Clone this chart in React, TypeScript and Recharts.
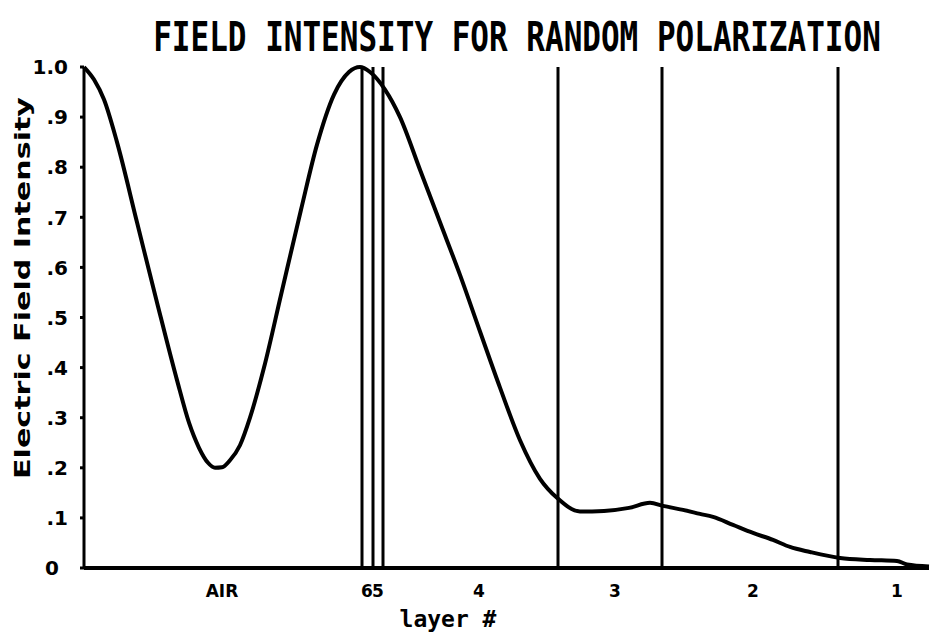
import { LineChart, Line, XAxis, YAxis, ReferenceLine, Customized } from "recharts";

// depth position along the stack (arbitrary units, air on the left)
const positions = [
  0, 10, 20, 33, 53, 73, 93, 105, 115, 124, 131, 138, 146, 156, 166, 180, 197,
  217, 233, 250, 265, 276, 286, 301, 316, 336, 356, 376, 396, 416, 436, 456,
  473, 496, 520, 545, 566, 579, 599, 616, 629, 649, 669, 689, 706, 726, 756,
  786, 813, 823, 845,
];
const intensity = [
  1.0, 0.975, 0.935, 0.85, 0.69, 0.53, 0.375, 0.29, 0.24, 0.21, 0.2, 0.201,
  0.215, 0.245, 0.3, 0.4, 0.545, 0.715, 0.845, 0.945, 0.99, 1.0, 0.99, 0.955,
  0.9, 0.795, 0.69, 0.585, 0.472, 0.36, 0.255, 0.178, 0.14, 0.113, 0.114, 0.12,
  0.13, 0.124, 0.116, 0.108, 0.102, 0.086, 0.07, 0.056, 0.042, 0.032, 0.02,
  0.016, 0.014, 0.007, 0.003,
];

// interfaces between layers
const boundaries = [278, 289, 299, 474, 578, 754];

const layerTicks = [138, 283, 294, 395, 531, 669, 813];
const layerLabels = ["AIR", "6", "5", "4", "3", "2", "1"];

const yTicks = [0, 0.1, 0.2, 0.3, 0.4, 0.5, 0.6, 0.7, 0.8, 0.9, 1.0];

const data = positions.map((p, i) => ({ pos: p, e: intensity[i] }));

const fmtY = (v: number) => (v === 0 ? "0" : v === 1 ? "1.0" : "." + Math.round(v * 10));

const YTick = (props: any) => {
  const { x, y, payload } = props;
  const v = payload.value;
  return (
    <text
      x={v === 0 ? 45 : x}
      y={y}
      dy="0.36em"
      textAnchor={v === 0 ? "start" : "end"}
      fontFamily="DejaVu Sans"
      fontWeight="bold"
      fontSize={20}
      fill="#000"
    >
      {fmtY(v)}
    </text>
  );
};

const XTick = (props: any) => {
  const { x, y, payload } = props;
  const i = layerTicks.indexOf(payload.value);
  return (
    <text
      x={x}
      y={y}
      dy="0.71em"
      textAnchor="middle"
      fontFamily="DejaVu Sans"
      fontWeight="bold"
      fontSize={17}
      fill="#000"
    >
      {layerLabels[i]}
    </text>
  );
};

const Texts = () => (
  <g fill="#000">
    <text
      transform="translate(517 51) scale(1 1.3)"
      textAnchor="middle"
      fontFamily="DejaVu Sans Mono"
      fontWeight="bold"
      fontSize={31}
    >
      FIELD INTENSITY FOR RANDOM POLARIZATION
    </text>
    <text
      x={448}
      y={627}
      textAnchor="middle"
      fontFamily="DejaVu Sans Mono"
      fontWeight="bold"
      fontSize={23}
    >
      layer #
    </text>
    <text
      transform="translate(30 288) rotate(-90)"
      textAnchor="middle"
      fontFamily="DejaVu Sans"
      fontWeight="bold"
      fontSize={22}
      textLength={382}
      lengthAdjust="spacingAndGlyphs"
    >
      Electric Field Intensity
    </text>
  </g>
);

export default function App() {
  return (
    <div style={{ position: "absolute", left: 0, top: 0, background: "#fff" }}>
      <LineChart
        width={930}
        height={634}
        data={data}
        margin={{ top: 67, right: 1, bottom: 0, left: 0 }}
      >
        <XAxis
          dataKey="pos"
          type="number"
          domain={[0, 845]}
          ticks={layerTicks}
          interval={0}
          tick={<XTick />}
          tickLine={false}
          tickSize={0}
          tickMargin={17}
          height={66}
          axisLine={{ stroke: "#000", strokeWidth: 4 }}
        />
        <YAxis
          type="number"
          domain={[0, 1]}
          ticks={yTicks}
          interval={0}
          width={84}
          tick={<YTick />}
          tickSize={4}
          tickMargin={12}
          tickLine={{ stroke: "#000", strokeWidth: 3 }}
          axisLine={{ stroke: "#000", strokeWidth: 3 }}
        />
        {boundaries.map((b) => (
          <ReferenceLine key={b} x={b} stroke="#000" strokeWidth={3} />
        ))}
        <Line
          type="monotone"
          dataKey="e"
          stroke="#000"
          strokeWidth={4}
          dot={false}
          isAnimationActive={false}
        />
        <Customized component={Texts} />
      </LineChart>
    </div>
  );
}
